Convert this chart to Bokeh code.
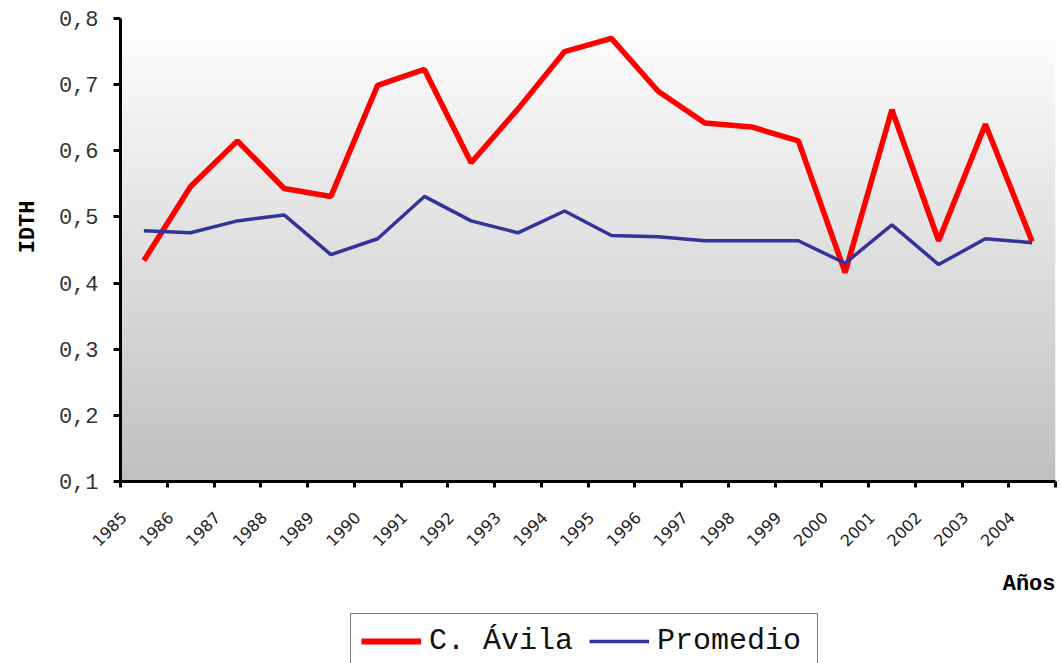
import numpy as np
from math import pi
from bokeh.plotting import figure
from bokeh.layouts import column
from bokeh.models import FixedTicker, Legend, LegendItem, Title, Range1d
from bokeh.embed import file_html
from bokeh.resources import INLINE

years = [str(y) for y in range(1985, 2005)]
avila = [0.434, 0.546, 0.615, 0.543, 0.531, 0.699, 0.723, 0.582, 0.663, 0.750,
         0.770, 0.690, 0.642, 0.636, 0.615, 0.416, 0.662, 0.464, 0.640, 0.463]
promedio = [0.479, 0.476, 0.494, 0.503, 0.443, 0.467, 0.531, 0.494, 0.476, 0.509,
            0.472, 0.470, 0.464, 0.464, 0.464, 0.430, 0.488, 0.428, 0.467, 0.461]
y_ticks = [0.1, 0.2, 0.3, 0.4, 0.5, 0.6, 0.7, 0.8]
y_tick_labels = ["0,1", "0,2", "0,3", "0,4", "0,5", "0,6", "0,7", "0,8"]
series_names = ["C. Ávila", "Promedio"]
series_colors = ["#ff0000", "#333399"]
series_widths = [5.5, 3.5]
y_title = "IDTH"
x_title = "Años"

n = len(years)
xc = [i + 0.5 for i in range(n)]
label_pos = [i + 0.07 for i in range(n)]
boundaries = list(range(n + 1))

p = figure(width=1061, height=612, output_backend="svg", toolbar_location=None,
           x_range=Range1d(0, n), y_range=Range1d(0.1, 0.8),
           min_border_left=120, min_border_right=6, min_border_top=18,
           min_border_bottom=129)
p.xgrid.visible = False
p.ygrid.visible = False
p.outline_line_color = None
p.background_fill_color = "white"
p.border_fill_color = "white"

# gradient plot-area background
H = 200
t = np.linspace(0, 1, H)
lev = (192 + (255 - 192) * t).astype(np.uint32)
img = np.empty((H, 1), dtype=np.uint32)
view = img.view(dtype=np.uint8).reshape((H, 1, 4))
view[:, 0, 0] = lev
view[:, 0, 1] = lev
view[:, 0, 2] = lev
view[:, 0, 3] = 255
p.image_rgba(image=[img], x=0, y=0.1, dw=n, dh=0.7)

r1 = p.line(xc, avila, line_color=series_colors[0], line_width=series_widths[0])
r2 = p.line(xc, promedio, line_color=series_colors[1], line_width=series_widths[1])

xa = p.xaxis[0]
xa.ticker = FixedTicker(ticks=label_pos, minor_ticks=boundaries)
xa.major_label_overrides = {v: years[i] for i, v in enumerate(label_pos)}
xa.major_label_orientation = pi / 4
xa.major_tick_line_color = None
xa.minor_tick_in = 0
xa.minor_tick_out = 6
xa.minor_tick_line_width = 3
xa.minor_tick_line_color = "black"
xa.axis_line_width = 3
xa.axis_line_color = "black"
xa.major_label_text_font = "DejaVu Sans"
xa.major_label_text_font_size = "16px"
xa.major_label_text_color = "#222222"
xa.major_label_standoff = 27

ya = p.yaxis[0]
ya.ticker = FixedTicker(ticks=y_ticks)
ya.major_label_overrides = {v: y_tick_labels[i] for i, v in enumerate(y_ticks)}
ya.major_tick_in = 0
ya.major_tick_out = 7
ya.major_tick_line_width = 3
ya.minor_tick_line_color = None
ya.axis_line_width = 3
ya.axis_line_color = "black"
ya.major_label_text_font = "Liberation Mono"
ya.major_label_text_font_size = "22px"
ya.major_label_text_color = "#333333"
ya.major_label_standoff = 15

p.add_layout(Title(text=y_title, align="right", offset=182, standoff=26,
                   vertical_align="top",
                   text_font="Liberation Mono", text_font_style="bold",
                   text_font_size="22px", text_color="black"), "left")
p.add_layout(Title(text=x_title, align="right", standoff=31,
                   text_font="Liberation Mono", text_font_style="bold",
                   text_font_size="22px", text_color="black"), "below")

# legend strip below the chart (its key lines lie outside its visible range)
q = figure(width=1061, height=51, output_backend="svg", toolbar_location=None,
           x_range=Range1d(0, n), y_range=Range1d(5, 6),
           min_border=0, min_border_left=0, min_border_right=0,
           min_border_top=0, min_border_bottom=0)
q.axis.visible = False
q.grid.visible = False
q.outline_line_color = None
q.background_fill_color = "white"
q.border_fill_color = "white"
k1 = q.line(xc, avila, line_color=series_colors[0], line_width=6)
k2 = q.line(xc, promedio, line_color=series_colors[1], line_width=series_widths[1])

legend = Legend(items=[LegendItem(label=series_names[0], renderers=[k1]),
                       LegendItem(label=series_names[1], renderers=[k2])],
                orientation="horizontal", location=(230, -6))
legend.label_text_font = "Liberation Mono"
legend.label_text_font_size = "30px"
legend.label_text_color = "#111111"
legend.border_line_color = "black"
legend.border_line_width = 1.5
legend.glyph_width = 60
legend.label_standoff = 8
legend.label_width = 150
legend.spacing = 10
legend.padding = 10
legend.margin = 0
legend.background_fill_color = "white"
legend.background_fill_alpha = 1
q.add_layout(legend)

layout = column(p, q, spacing=0)
open("out.html", "w").write(file_html(layout, INLINE))
